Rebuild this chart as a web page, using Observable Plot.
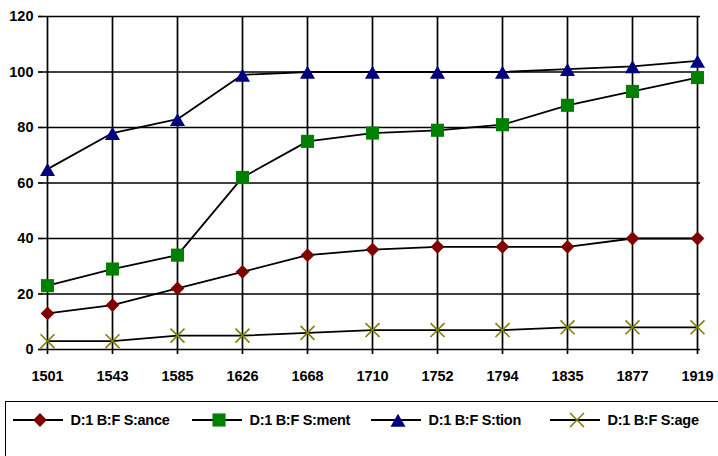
<!DOCTYPE html>
<html>
<head>
<meta charset="utf-8">
<script src="https://cdn.jsdelivr.net/npm/d3@7"></script>
<script src="https://cdn.jsdelivr.net/npm/@observablehq/plot@0.6"></script>
<style>
  body { margin: 0; background: #fff; font-family: "Liberation Sans", Arial, sans-serif; }
  #wrap { position: relative; width: 718px; height: 456px; overflow: hidden; }
  #legend { position: absolute; left: 5px; top: 401px; width: 730px; height: 80px;
            border-top: 1.5px solid #000; border-left: 1.5px solid #000; box-sizing: border-box; }
  .item { position: absolute; top: 8px; height: 20px; display: flex; align-items: center; }
  .item span { font-weight: bold; font-size: 14.5px; letter-spacing: -0.3px; color: #000; margin-left: 8px; }
</style>
</head>
<body>
<div id="wrap"><div id="chart"></div><div id="legend"></div></div>
<script>
const years = ["1501","1543","1585","1626","1668","1710","1752","1794","1835","1877","1919"];
const seriesNames = ["D:1 B:F S:ance", "D:1 B:F S:ment", "D:1 B:F S:tion", "D:1 B:F S:age"];
const ance = [13, 16, 22, 28, 34, 36, 37, 37, 37, 40, 40];
const ment = [23, 29, 34, 62, 75, 78, 79, 81, 88, 93, 98];
const tion = [65, 78, 83, 99, 100, 100, 100, 100, 101, 102, 104];
const age  = [3, 3, 5, 5, 6, 7, 7, 7, 8, 8, 8];
const yTicks = [0, 20, 40, 60, 80, 100, 120];

const colors = ["#800000", "#008000", "#000080", "#808000"];
const allValues = [ance, ment, tion, age];
const rows = allValues.map((vals, s) => vals.map((v, i) => ({year: years[i], value: v, series: s})));

const font = "'Liberation Sans', Arial, sans-serif";
const marks = [
  Plot.gridY(yTicks, {stroke: "#000", strokeOpacity: 1, strokeWidth: 1.7}),
  Plot.gridX(years, {stroke: "#000", strokeOpacity: 1, strokeWidth: 1.7}),
  Plot.axisY(yTicks, {tickSize: 5, tickPadding: 5, fontWeight: "bold", fontSize: 14.5, stroke: "#000", strokeWidth: 1.7, label: null}),
  Plot.axisX(years, {tickSize: 5, tickPadding: 16, fontWeight: "bold", fontSize: 14.5, stroke: "#000", strokeWidth: 1.7, label: null})
];
rows.forEach((data, s) => {
  marks.push(Plot.line(data, {x: "year", y: "value", stroke: "#000", strokeWidth: 1.8}));
});
rows.forEach((data, s) => {
  if (s === 0) marks.push(Plot.dot(data, {x: "year", y: "value", symbol: "square", r: 5.5, rotate: 45, fill: colors[0], stroke: "none"}));
  if (s === 1) marks.push(Plot.dot(data, {x: "year", y: "value", symbol: "square", r: 7.4, fill: colors[1], stroke: "none"}));
  if (s === 2) marks.push(Plot.dot(data, {x: "year", y: "value", symbol: "triangle", r: 5.6, dy: 2.5, fill: colors[2], stroke: "none"}));
  if (s === 3) marks.push(Plot.dot(data, {x: "year", y: "value", symbol: "times", r: 6.4, stroke: colors[3], strokeWidth: 1.6, fill: "none"}));
});

const chart = Plot.plot({
  width: 718,
  height: 395,
  marginTop: 16,
  marginBottom: 46,
  marginLeft: 43,
  marginRight: 18,
  style: {fontFamily: font, color: "#000", background: "#fff", overflow: "visible"},
  x: {type: "point", domain: years, padding: 0, axis: null},
  y: {domain: [0, 120], axis: null},
  marks
});
document.getElementById("chart").appendChild(chart);

// legend
const legend = document.getElementById("legend");
const lefts = [6.5, 185.5, 364.5, 543.5];
const symbols = [d3.symbolSquare, d3.symbolSquare, d3.symbolTriangle, d3.symbolTimes];
const radii = [5.5, 7.4, 5.6, 6.4];
seriesNames.forEach((name, s) => {
  const item = document.createElement("div");
  item.className = "item";
  item.style.left = lefts[s] + "px";
  const svg = d3.create("svg").attr("width", 50).attr("height", 20);
  svg.append("line").attr("x1", 0).attr("x2", 50).attr("y1", 10).attr("y2", 10).attr("stroke", "#000").attr("stroke-width", 1.8);
  const p = d3.symbol(symbols[s], Math.PI * radii[s] * radii[s])();
  const g = svg.append("path").attr("d", p)
    .attr("transform", `translate(27,${s === 2 ? 12.5 : 10})${s === 0 ? " rotate(45)" : ""}`);
  if (s === 3) g.attr("fill", "none").attr("stroke", colors[s]).attr("stroke-width", 1.6);
  else g.attr("fill", colors[s]);
  item.appendChild(svg.node());
  const t = document.createElement("span");
  t.textContent = name;
  item.appendChild(t);
  legend.appendChild(item);
});
</script>
</body>
</html>
